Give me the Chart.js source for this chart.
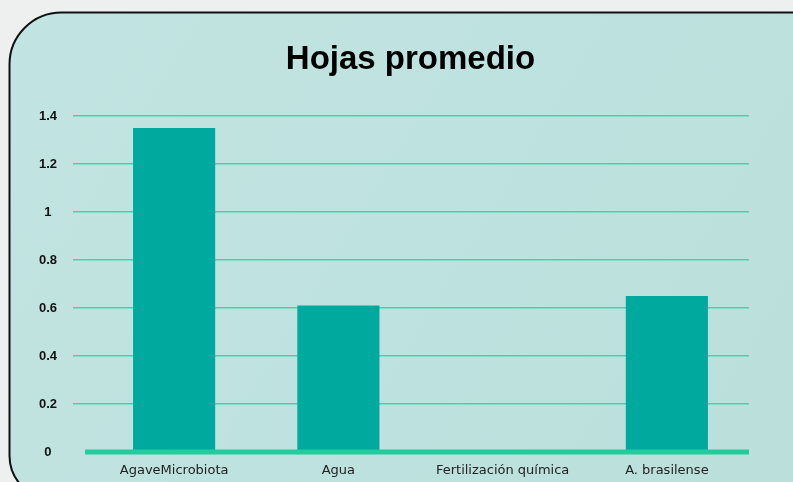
<!DOCTYPE html>
<html>
<head>
<meta charset="utf-8">
<script src="https://cdn.jsdelivr.net/npm/chart.js@4"></script>
<style>
  html, body { margin: 0; padding: 0; background: #eef0ef; }
  #wrap { width: 793px; height: 482px; position: relative; }
</style>
</head>
<body>
<div id="wrap"><canvas id="hojas"></canvas></div>
<script>
const categories = ['AgaveMicrobiota', 'Agua', 'Fertilización química', 'A. brasilense'];
const hojasPromedio = [1.35, 0.61, 0, 0.65];
const yTicks = [0, 0.2, 0.4, 0.6, 0.8, 1, 1.2, 1.4];
const chartTitle = 'Hojas promedio';

// panel background with rounded corner
const panelBg = {
    id: 'panelBg',
    beforeDraw(chart) {
        const c = chart.ctx;
        c.save();
        c.fillStyle = '#eef0ef';
        c.fillRect(0, 0, chart.width, chart.height);
        const g = c.createLinearGradient(0, 0, chart.width, chart.height);
        g.addColorStop(0, '#c2e4e2');
        g.addColorStop(0.5, '#bee2df');
        g.addColorStop(1, '#bbdfdb');
        c.beginPath();
        c.roundRect(9.5, 12.5, chart.width + 40, chart.height + 5, [52, 0, 0, 44]);
        c.fillStyle = g;
        c.fill();
        c.lineWidth = 2;
        c.strokeStyle = '#111';
        c.stroke();
        c.restore();
    }
};

// title, centred a little right of the canvas middle
const titleText = {
    id: 'titleText',
    afterDraw(chart) {
        const c = chart.ctx;
        c.save();
        c.font = 'bold 33px "Liberation Sans", Arial, sans-serif';
        c.fillStyle = '#000';
        c.textAlign = 'center';
        c.textBaseline = 'alphabetic';
        c.fillText(chartTitle, (chart.chartArea.left + chart.chartArea.right) / 2 - 10, 69);
        c.restore();
    }
};

// thick base line at zero
const baseLine = {
    id: 'baseLine',
    afterDatasetsDraw(chart) {
        const c = chart.ctx;
        const y = chart.scales.y.getPixelForValue(0);
        c.save();
        c.strokeStyle = '#22cc9c';
        c.lineWidth = 5;
        c.beginPath();
        c.moveTo(chart.chartArea.left - 7, y);
        c.lineTo(chart.chartArea.right, y);
        c.stroke();
        c.restore();
    }
};

const gridCol = c => c.tick && c.tick.value === 0 ? 'rgba(0,0,0,0)' : '#40d6ab';

const ctx = document.getElementById('hojas');
const hojas = new Chart(ctx, {
    type: 'bar',
    data: {
        labels: categories,
        datasets: [{
            label: chartTitle,
            data: hojasPromedio,
            backgroundColor: '#00a99d',
            borderWidth: 0,
            barPercentage: 0.5,
            categoryPercentage: 1
        }]
    },
    options: {
        responsive: true,
        maintainAspectRatio: false,
        animation: false,
        layout: {
            padding: { left: 10, right: 44, top: 116, bottom: 0 }
        },
        plugins: {
            legend: { display: false },
            title: { display: false }
        },
        scales: {
            x: {
                afterFit(scale) { scale.height = 30; },
                grid: { display: false, drawTicks: false },
                border: { display: false },
                ticks: {
                    color: '#222',
                    font: { family: 'DejaVu Sans', size: 13 },
                    padding: 11,
                    maxRotation: 0
                }
            },
            y: {
                min: 0,
                max: 1.4,
                afterFit(scale) { scale.width = 82; },
                afterBuildTicks(scale) { scale.ticks = yTicks.map(v => ({ value: v })); },
                border: { display: false },
                grid: {
                    color: gridCol,
                    tickColor: gridCol,
                    lineWidth: 1.5,
                    tickLength: 19
                },
                ticks: {
                    color: '#111',
                    font: { family: 'Liberation Sans', size: 13, weight: 'bold' },
                    padding: 16,
                    crossAlign: 'center',
                    callback: v => String(+v.toFixed(1))
                }
            }
        }
    },
    plugins: [panelBg, titleText, baseLine]
});
</script>
</body>
</html>
